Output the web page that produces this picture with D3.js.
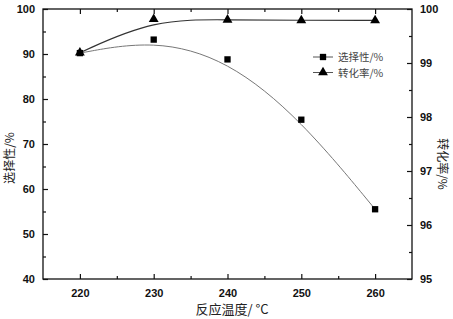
<!DOCTYPE html>
<html>
<head>
<meta charset="utf-8">
<script src="https://cdn.jsdelivr.net/npm/d3@7"></script>
<style>
  body { margin: 0; background: #fff; }
  svg { display: block; }
  .tk text { font-family: "Liberation Sans", Arial, sans-serif; font-weight: bold; font-size: 11px; fill: #111; }
</style>
</head>
<body>
<script>
// temperatures (°C)
const temps = [220, 230, 240, 250, 260]
// selectivity /% (left axis)
const selectivity = [90.2, 93.2, 88.8, 75.4, 55.5]
// conversion /% (right axis)
const conversion = [99.19, 99.81, 99.8, 99.79, 99.79]

const xTicks = [220, 230, 240, 250, 260]
const yLeftTicks = [40, 50, 60, 70, 80, 90, 100]
const yRightTicks = [95, 96, 97, 98, 99, 100]

const W = 453, H = 319
const margin = { top: 9, right: 41, bottom: 40, left: 43 }
const width = W - margin.left - margin.right
const height = H - margin.top - margin.bottom

const svg = d3.select("body").append("svg")
  .attr("width", W).attr("height", H)
const g = svg.append("g")
  .attr("transform", "translate(" + margin.left + "," + margin.top + ")")

const x = d3.scaleLinear().domain([215, 265]).range([0, width])
const yL = d3.scaleLinear().domain([40, 100]).range([height, 0])
const yR = d3.scaleLinear().domain([95, 100]).range([height, 0])

// cadre
g.append("rect").attr("width", width).attr("height", height)
  .attr("fill", "none").attr("stroke", "#111").attr("stroke-width", 1.3)

function styleAxis(sel) {
  sel.select(".domain").remove()
  sel.selectAll("line").attr("stroke", "#111").attr("stroke-width", 1.2)
}

// graduations principales (vers l'intérieur)
g.append("g").attr("class", "tk").attr("transform", "translate(0," + height + ")")
  .call(d3.axisBottom(x).tickValues(xTicks).tickSize(-5).tickPadding(10).tickFormat(d3.format("d")))
  .call(styleAxis)
g.append("g").attr("class", "tk")
  .call(d3.axisTop(x).tickValues(xTicks).tickSize(-5).tickFormat(""))
  .call(styleAxis)
g.append("g").attr("class", "tk")
  .call(d3.axisLeft(yL).tickValues(yLeftTicks).tickSize(-5).tickPadding(8))
  .call(styleAxis)
g.append("g").attr("class", "tk").attr("transform", "translate(" + width + ",0)")
  .call(d3.axisRight(yR).tickValues(yRightTicks).tickSize(-5).tickPadding(8).tickFormat(d3.format("d")))
  .call(styleAxis)

// graduations secondaires
const xMinor = [225, 235, 245, 255]
const yLMinor = [45, 55, 65, 75, 85, 95]
const yRMinor = [95.5, 96.5, 97.5, 98.5, 99.5]
g.append("g").attr("transform", "translate(0," + height + ")")
  .call(d3.axisBottom(x).tickValues(xMinor).tickSize(-3).tickFormat("")).call(styleAxis)
g.append("g")
  .call(d3.axisTop(x).tickValues(xMinor).tickSize(-3).tickFormat("")).call(styleAxis)
g.append("g")
  .call(d3.axisLeft(yL).tickValues(yLMinor).tickSize(-3).tickFormat("")).call(styleAxis)
g.append("g").attr("transform", "translate(" + width + ",0)")
  .call(d3.axisRight(yR).tickValues(yRMinor).tickSize(-3).tickFormat("")).call(styleAxis)

// courbes (B-spline)
const selLine = d3.line().curve(d3.curveBasis)
  .x((d, i) => x(temps[i])).y(d => yL(d))
const convLine = d3.line().curve(d3.curveBasis)
  .x((d, i) => x(temps[i])).y(d => yR(d))

g.append("path").datum(selectivity).attr("d", selLine)
  .attr("fill", "none").attr("stroke", "#777").attr("stroke-width", 1)
g.append("path").datum(conversion).attr("d", convLine)
  .attr("fill", "none").attr("stroke", "#333").attr("stroke-width", 1.2)

// symboles
const sq = d3.symbol().type(d3.symbolSquare).size(40)
const tri = d3.symbol().type(d3.symbolTriangle).size(42)
g.selectAll(".tri").data(conversion).join("path")
  .attr("transform", (d, i) => "translate(" + x(temps[i]) + "," + yR(d) + ")")
  .attr("d", tri).attr("fill", "#000")
g.selectAll(".sq").data(selectivity).join("path")
  .attr("transform", (d, i) => "translate(" + x(temps[i]) + "," + yL(d) + ")")
  .attr("d", sq).attr("fill", "#000")

// légende
const legend = [
  { label: "选择性/%", sym: sq },
  { label: "转化率/%", sym: tri }
]
const lg = svg.append("g").attr("transform", "translate(313,57)")
legend.forEach((l, i) => {
  const row = lg.append("g").attr("transform", "translate(0," + (i * 15.5) + ")")
  row.append("line").attr("x1", 0).attr("x2", 20).attr("stroke", "#555").attr("stroke-width", 1)
  row.append("path").attr("transform", "translate(10,0)").attr("d", l.sym).attr("fill", "#000")
  row.append("text").attr("x", 25).attr("y", 4)
    .style("font-family", "'Noto Sans CJK SC', sans-serif").style("font-size", "10.5px").style("fill", "#444")
    .text(l.label)
})

// titres des axes
const titleFont = "'Noto Sans CJK SC', sans-serif"
svg.append("text")
  .attr("transform", "translate(14,158) rotate(-90)")
  .attr("text-anchor", "middle")
  .style("font-family", titleFont).style("font-size", "12px").style("fill", "#222")
  .text("选择性/%")
svg.append("text")
  .attr("transform", "translate(438,164) rotate(90)")
  .attr("text-anchor", "middle")
  .style("font-family", titleFont).style("font-size", "12px").style("fill", "#222")
  .text("转化率/%")
svg.append("text")
  .attr("x", 232).attr("y", 314)
  .attr("text-anchor", "middle")
  .style("font-family", titleFont).style("font-size", "13px").style("fill", "#222")
  .text("反应温度/ °C")
</script>
</body>
</html>
